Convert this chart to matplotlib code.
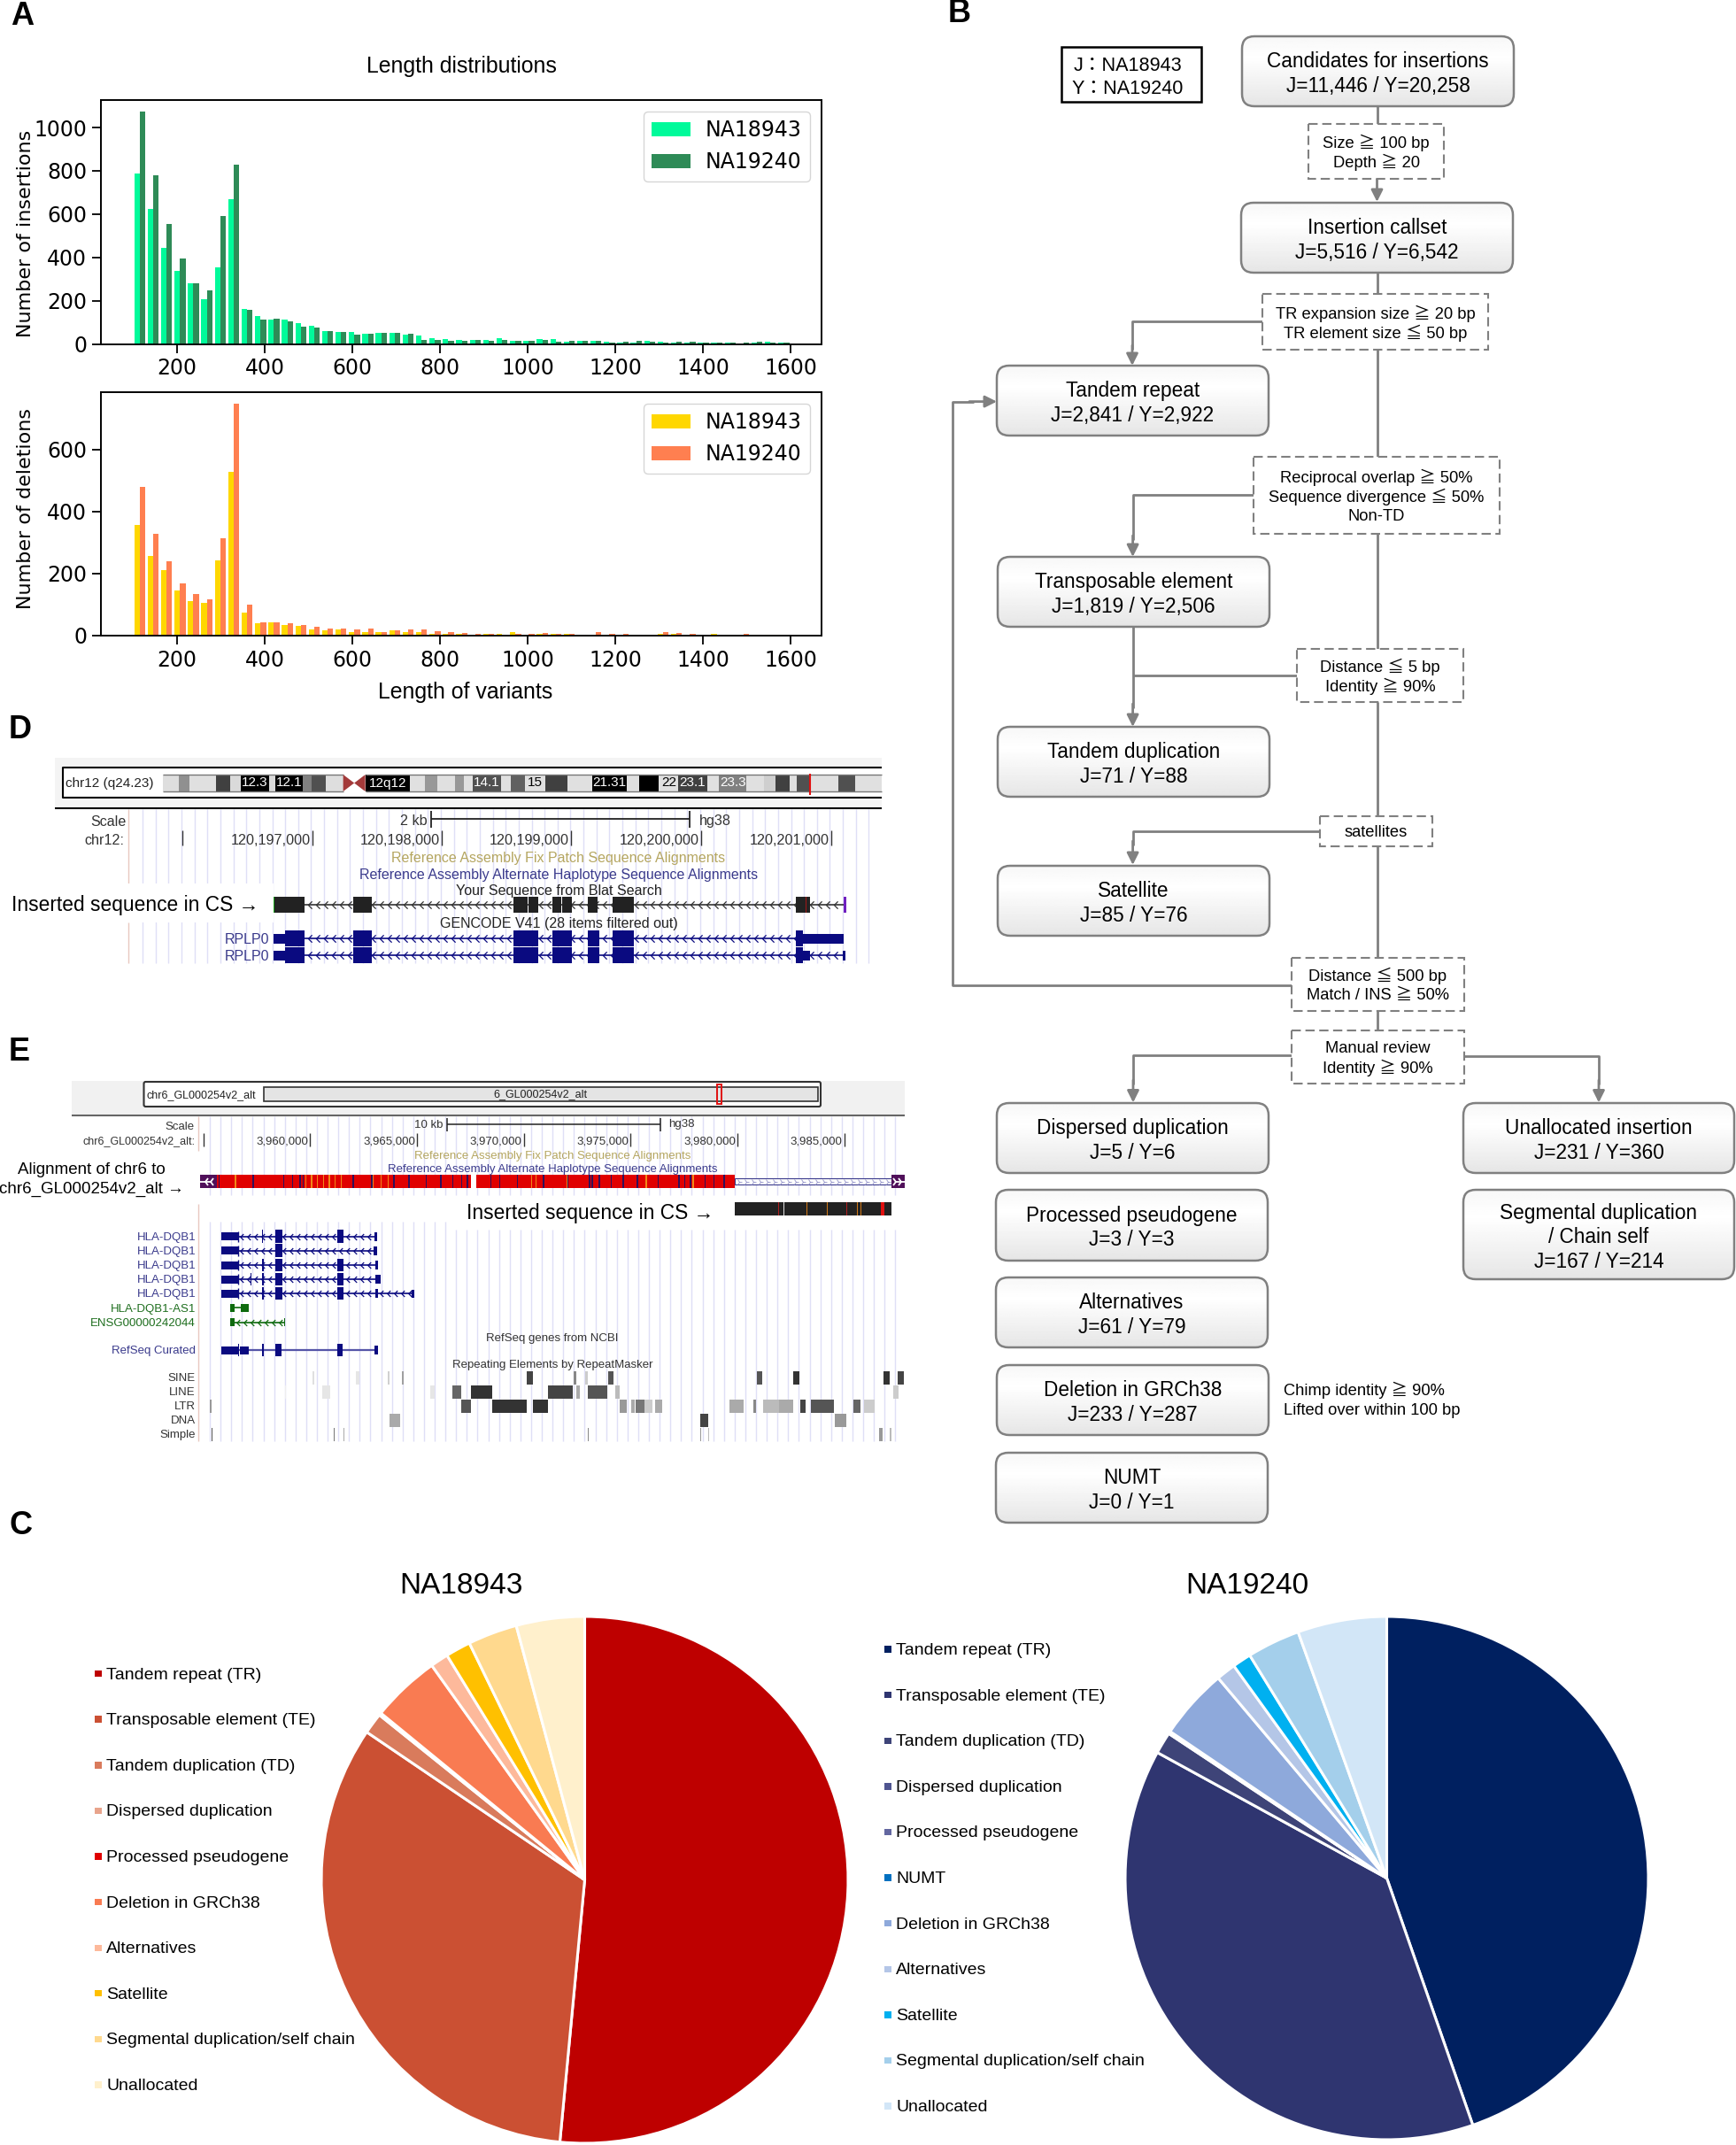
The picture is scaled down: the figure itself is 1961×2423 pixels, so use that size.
import numpy as np
import matplotlib
matplotlib.use('Agg')
import matplotlib.pyplot as plt
from matplotlib.patches import FancyBboxPatch, Rectangle, Polygon
from matplotlib.path import Path

W, H = 1961, 2423
SANS = ['Liberation Sans', 'Noto Sans CJK JP', 'DejaVu Sans']
plt.rcParams['font.family'] = ['DejaVu Sans']

# panel A, counts per length bin
bin_edges = np.linspace(100, 1600, 50)
ins_j = [787, 625, 443, 338, 281, 205, 355, 670, 161, 130, 113, 113, 95, 85, 60, 56, 56, 48, 52, 52, 44, 40, 26, 22,
         18, 20, 18, 25, 16, 16, 22, 22, 12, 14, 15, 10, 8, 8, 14, 12, 8, 8, 8, 6, 8, 4, 6, 11, 5]
ins_y = [1074, 780, 554, 396, 281, 247, 593, 828, 156, 113, 117, 104, 78, 76, 59, 56, 44, 48, 52, 52, 45, 19, 18, 15,
         14, 20, 14, 20, 15, 16, 20, 12, 14, 16, 15, 8, 9, 14, 10, 7, 9, 12, 7, 8, 5, 6, 11, 5, 7]
del_j = [357, 255, 210, 144, 111, 106, 242, 527, 73, 39, 42, 33, 30, 20, 17, 20, 10, 10, 10, 15, 10, 12, 6, 6,
         4, 3, 6, 5, 10, 3, 6, 4, 4, 1, 3, 2, 2, 2, 2, 6, 6, 3, 1, 4, 1, 1, 2, 1, 1]
del_y = [478, 329, 239, 167, 133, 115, 314, 748, 99, 42, 42, 39, 34, 27, 21, 23, 20, 21, 10, 15, 19, 18, 13, 10,
         8, 5, 5, 3, 5, 4, 8, 6, 6, 2, 10, 5, 6, 3, 3, 10, 7, 5, 1, 3, 1, 6, 3, 2, 1]

# panel C
names_j = ['Tandem repeat (TR)', 'Transposable element (TE)', 'Tandem duplication (TD)', 'Dispersed duplication',
           'Processed pseudogene', 'Deletion in GRCh38', 'Alternatives', 'Satellite',
           'Segmental duplication/self chain', 'Unallocated']
counts_j = [2841, 1819, 71, 5, 3, 233, 61, 85, 167, 231]
colors_j = ['#BE0000', '#CB5033', '#D97B5C', '#E8A48C', '#E00000', '#F97B52', '#FDB99B', '#FFC000', '#FFD98E', '#FFF0CC']
names_y = ['Tandem repeat (TR)', 'Transposable element (TE)', 'Tandem duplication (TD)', 'Dispersed duplication',
           'Processed pseudogene', 'NUMT', 'Deletion in GRCh38', 'Alternatives', 'Satellite',
           'Segmental duplication/self chain', 'Unallocated']
counts_y = [2922, 2506, 88, 6, 3, 1, 287, 79, 76, 214, 360]
colors_y = ['#002060', '#2F3570', '#3E4478', '#4F5590', '#6367A0', '#0070C0', '#8EA9DB', '#B4C6E7', '#00B0F0', '#A4CFEB', '#D2E6F7']

band_edges = [280, 308, 326, 371, 395, 414, 462, 473, 521, 535, 560, 590, 628, 705, 730, 752, 783, 798, 813, 862, 878,
              902, 938, 975, 1018, 1078, 1099, 1133, 1166, 1216, 1236, 1283, 1313, 1334, 1358, 1370, 1392, 1442, 1471, 1516]
band_greys = ['#DEDEDE', '#909090', '#E0E0E0', '#404040', '#DADADA', '#000000', '#DADADA', '#000000', '#808080', '#505050',
              '#DEDEDE', '#FFFFFF', '#000000', '#E0E0E0', '#989898', '#E0E0E0', '#989898', '#E0E0E0', '#505050', '#E0E0E0',
              '#606060', '#E0E0E0', '#404040', '#E0E0E0', '#000000', '#E0E0E0', '#000000', '#E0E0E0', '#404040', '#E0E0E0',
              '#808080', '#E0E0E0', '#CFCFCF', '#404040', '#E0E0E0', '#505050', '#E0E0E0', '#505050', '#E0E0E0']
band_names = [('12.3', 438, 'w'), ('12.1', 497, 'w'), ('12q12', 667, 'w'), ('14.1', 837, 'w'), ('15', 920, 'k'),
              ('21.31', 1048, 'w'), ('22', 1150, 'k'), ('23.1', 1191, 'w'), ('23.3', 1260, 'w')]
d_ticks = [206, 353, 499, 645, 792, 939]
d_labels = ['', '120,197,000', '120,198,000', '120,199,000', '120,200,000', '120,201,000']
blat_blocks = [(471, 523), (608, 639), (883, 907), (908, 926), (950, 965), (966, 983), (1010, 1028), (1053, 1071),
               (1072, 1090), (1368, 1392)]
rplp_tall = [(490, 523), (608, 639), (883, 926), (950, 983), (1010, 1030), (1053, 1090)]

# panel E
e_ticks = [230, 350, 471, 591.5, 712, 833, 953.6]
e_labels = ['', '3,960,000', '3,965,000', '3,970,000', '3,975,000', '3,980,000', '3,985,000']
alt_dark = [372, 399, 430, 482, 497, 510, 515, 600, 632, 670, 695, 725, 750, 770, 785, 795, 835, 850, 880, 925, 965, 1003,
            1008, 1020, 1040, 1060, 1085, 1120, 1155, 1165, 1175, 1200, 1215, 1232]
alt_orange = [400, 520, 530, 540, 550, 560, 570, 580, 635, 648, 660, 905, 912, 965, 1100, 1180]
gene_rows = [
    ('HLA-DQB1', 50, [(229, 229)], [(273, 295), (484, 502)], 608, 618),
    ('HLA-DQB1', 98, [], [(273, 295)], 606, 618),
    ('HLA-DQB1', 147, [(229, 233)], [(273, 295), (484, 502)], 612, 621),
    ('HLA-DQB1', 195, [(188, 192), (229, 233)], [(273, 295), (484, 502)], 612, 630),
    ('HLA-DQB1', 243, [(229, 233)], [(273, 295), (484, 502)], 612, 620),
]
sine = [(533, 536, '#E0E0E0'), (606, 612, '#E6E6E6'), (660, 663, '#D0D0D0'), (685, 688, '#A0A0A0'), (897, 908, '#444444'),
        (977, 981, '#888888'), (997, 1001, '#CCCCCC'), (1036, 1045, '#555555'), (1289, 1299, '#555555'),
        (1351, 1361, '#333333'), (1505, 1516, '#333333'), (1529, 1539, '#444444')]
line = [(485, 487, '#EEEEEE'), (549, 562, '#E6E6E6'), (733, 741, '#E6E6E6'), (771, 785, '#666666'), (803, 838, '#333333'),
        (933, 975, '#444444'), (981, 988, '#AAAAAA'), (1001, 1035, '#555555'), (1048, 1056, '#BBBBBB'), (1521, 1530, '#CCCCCC')]
ltr = [(357, 360, '#999999'), (785, 803, '#555555'), (838, 897, '#333333'), (908, 933, '#333333'), (1056, 1068, '#999999'),
       (1075, 1081, '#AAAAAA'), (1083, 1098, '#777777'), (1098, 1112, '#CCCCCC'), (1116, 1128, '#AAAAAA'),
       (1242, 1266, '#AAAAAA'), (1284, 1288, '#888888'), (1300, 1327, '#BBBBBB'), (1327, 1351, '#AAAAAA'),
       (1363, 1373, '#444444'), (1381, 1420, '#555555'), (1454, 1466, '#666666'), (1472, 1490, '#CCCCCC')]
dna = [(663, 682, '#AAAAAA'), (1193, 1207, '#444444'), (1422, 1442, '#999999')]
simple = [(360, 362, '#555555'), (568, 570, '#777777'), (585, 587, '#AAAAAA'), (1001, 1003, '#888888'),
          (1193, 1195, '#999999'), (1206, 1208, '#BBBBBB'), (1498, 1503, '#999999'), (1516, 1518, '#BBBBBB')]

GREY = '#808080'
NAVY = '#0A0A80'
TRACK_BLUE = '#3A3A8C'
TRACK_GOLD = '#B5A660'
GREEN = '#1E6E1E'
GRID = '#DFDFF6'

fig = plt.figure(figsize=(W / 100, H / 100), dpi=100)
canvas = fig.add_axes([0, 0, 1, 1])
canvas.set_xlim(0, W)
canvas.set_ylim(H, 0)
canvas.set_autoscale_on(False)
canvas.axis('off')


def px_axes(x0, y0, x1, y1):
    return fig.add_axes([x0 / W, 1 - y1 / H, (x1 - x0) / W, (y1 - y0) / H])


def txt(x, y, s, size=14, ha='center', color='black', **kw):
    return canvas.text(x, y + 1.5, s, fontsize=size, ha=ha, va='center', color=color, family=SANS, **kw)


def rect(x0, x1, y0, y1, color, z=3):
    canvas.add_patch(Rectangle((x0, y0), x1 - x0, y1 - y0, fc=color, ec='none', lw=0, zorder=z))


def seg(xs, ys, color=GREY, lw=2, z=2, **kw):
    canvas.plot(xs, ys, color=color, lw=lw, zorder=z, solid_capstyle='butt', **kw)


def arrow(x0, y0, x1, y1):
    canvas.annotate('', xy=(x1, y1), xytext=(x0, y0), zorder=3,
                    arrowprops=dict(arrowstyle='-|>,head_length=0.66,head_width=0.33', color=GREY, lw=2,
                                    mutation_scale=12, shrinkA=0, shrinkB=0))


def flow_box(x0, y0, x1, y1, lines, size=16.3):
    patch = FancyBboxPatch((x0, y0), x1 - x0, y1 - y0, boxstyle='round,pad=0,rounding_size=14',
                           fc='none', ec=GREY, lw=1.8, zorder=4)
    canvas.add_patch(patch)
    grad = np.interp(np.linspace(0, 1, 64), [0, 0.3, 1], [0.97, 1.0, 0.9])[:, None]
    im = canvas.imshow(grad, extent=(x0, x1, y1, y0), cmap='gray', vmin=0, vmax=1, aspect='auto', zorder=3)
    im.set_clip_path(patch)
    cy = (y0 + y1) / 2 + 1.5
    cx = (x0 + x1) / 2
    gap = 27.5
    for i, s in enumerate(lines):
        txt(cx, cy + (i - (len(lines) - 1) / 2) * gap, s, size=size, zorder=5)


def dash_box(x0, y0, x1, y1, lines, size=13.2):
    canvas.add_patch(Rectangle((x0, y0), x1 - x0, y1 - y0, fc='white', ec=GREY, lw=1.5, ls=(0, (5, 2.5)), zorder=4))
    cy = (y0 + y1) / 2
    cx = (x0 + x1) / 2
    for i, s in enumerate(lines):
        txt(cx, cy + (i - (len(lines) - 1) / 2) * 22, s, size=size, zorder=5)


def chevrons(x0, x1, y, color=NAVY, step=10, lw=1.2, size=6):
    seg([x0, x1], [y, y], color=color, lw=lw, z=3)
    mark = Path([(0.5, 1), (-0.5, 0), (0.5, -1)], [Path.MOVETO, Path.LINETO, Path.LINETO])
    xs = np.arange(x0 + step / 2, x1, step)
    canvas.plot(xs, [y] * len(xs), ls='none', marker=mark, ms=size, mfc='none', mec=color, mew=0.9, zorder=3)


# ---- panel labels
for lab, lx, ly in [('A', 12, 17), ('B', 1071, 14), ('D', 10, 823), ('E', 10, 1187), ('C', 10, 1722)]:
    txt(lx, ly, lab, size=26, ha='left', fontweight='bold')

# ---- panel A
for box, a, b, c1, c2, ylab, ylabc, ymax, ticks in [
    ((114, 113, 928, 388.5), ins_j, ins_y, 'mediumspringgreen', 'seagreen', 'Number of insertions', 0.451, 1127,
     [0, 200, 400, 600, 800, 1000]),
    ((114, 443, 928, 717.7), del_j, del_y, 'gold', 'coral', 'Number of deletions', 0.52, 785, [0, 200, 400, 600]),
]:
    ax = px_axes(*box)
    lefts = bin_edges[:-1] + 2
    ax.bar(lefts, a, width=12.6, align='edge', color=c1, label='NA18943')
    ax.bar(lefts + 12.6, b, width=12.6, align='edge', color=c2, label='NA19240')
    ax.set_xlim(26, 1670)
    ax.set_ylim(0, ymax)
    ax.set_xticks(range(200, 1601, 200))
    ax.set_yticks(ticks)
    ax.tick_params(labelsize=17, length=7, width=1.3, pad=4.5)
    for sp in ax.spines.values():
        sp.set_linewidth(1.4)
    ax.set_ylabel(ylab, fontsize=16)
    ax.yaxis.set_label_coords(-0.092, ylabc)
    ax.legend(loc='upper right', fontsize=17, handlelength=1.85, handletextpad=0.7, borderaxespad=0.55, borderpad=0.4)
    if ylab.endswith('insertions'):
        ax.set_title('Length distributions', fontsize=17.9, family=SANS, pad=22)
    else:
        ax.set_xlabel('Length of variants', fontsize=17.9, family=SANS, labelpad=9, x=0.506)

# ---- panel B
flow_box(1403, 41, 1710, 120, ['Candidates for insertions', 'J=11,446 / Y=20,258'])
flow_box(1402, 229, 1709, 308, ['Insertion callset', 'J=5,516 / Y=6,542'])
flow_box(1126, 413, 1433, 492, ['Tandem repeat', 'J=2,841 / Y=2,922'])
flow_box(1127, 629, 1434, 708, ['Transposable element', 'J=1,819 / Y=2,506'])
flow_box(1127, 821, 1434, 900, ['Tandem duplication', 'J=71 / Y=88'])
flow_box(1127, 978, 1434, 1057, ['Satellite', 'J=85 / Y=76'])
flow_box(1126, 1246, 1433, 1325, ['Dispersed duplication', 'J=5 / Y=6'])
flow_box(1125, 1344, 1432, 1424, ['Processed pseudogene', 'J=3 / Y=3'])
flow_box(1125, 1443, 1432, 1522, ['Alternatives', 'J=61 / Y=79'])
flow_box(1126, 1542, 1433, 1621, ['Deletion in GRCh38', 'J=233 / Y=287'])
flow_box(1125, 1641, 1432, 1720, ['NUMT', 'J=0 / Y=1'])
flow_box(1653, 1246, 1959, 1325, ['Unallocated insertion', 'J=231 / Y=360'])
flow_box(1653, 1344, 1959, 1445, ['Segmental duplication', '/ Chain self', 'J=167 / Y=214'])

dash_box(1478, 140, 1631, 202, ['Size ≧ 100 bp', 'Depth ≧ 20'])
dash_box(1426, 332, 1681, 395, ['TR expansion size ≧ 20 bp', 'TR element size ≦ 50 bp'])
dash_box(1416, 516, 1694, 603, ['Reciprocal overlap ≧ 50%', 'Sequence divergence ≦ 50%', 'Non-TD'])
dash_box(1465, 733, 1653, 793, ['Distance ≦ 5 bp', 'Identity ≧ 90%'])
dash_box(1491, 922, 1618, 956, ['satellites'])
dash_box(1459, 1082, 1654, 1142, ['Distance ≦ 500 bp', 'Match / INS ≧ 50%'])
dash_box(1459, 1164, 1654, 1224, ['Manual review', 'Identity ≧ 90%'])

canvas.add_patch(Rectangle((1199, 53), 158, 62, fc='white', ec='black', lw=1.8, zorder=4))
txt(1274, 72.5, 'J：NA18943', size=15.6, zorder=5)
txt(1274, 99, 'Y：NA19240', size=15.6, zorder=5)

MAIN = 1555.5
seg([MAIN, MAIN], [120, 140])
arrow(MAIN, 202, MAIN, 228)
seg([MAIN, MAIN], [308, 332])
seg([MAIN, MAIN], [395, 516])
seg([1426, 1279, 1279], [362.5, 362.5, 395])
arrow(1279, 390, 1279, 413)
seg([1416, 1279.6, 1279.6], [559, 559, 610])
arrow(1279.6, 605, 1279.6, 629)
seg([MAIN, MAIN], [603, 733])
seg([1279.6, 1279.6], [708, 800])
seg([1465, 1279.6], [763, 763])
arrow(1279.6, 795, 1279.6, 821)
seg([MAIN, MAIN], [793, 922])
seg([1491, 1279.6, 1279.6], [939, 939, 955])
arrow(1279.6, 950, 1279.6, 977)
seg([MAIN, MAIN], [956, 1082])
seg([1459, 1076, 1076, 1100], [1113, 1113, 453.6, 453.6])
arrow(1095, 453.6, 1126, 453.6)
seg([MAIN, MAIN], [1142, 1164])
seg([1459, 1280, 1280], [1191.5, 1191.5, 1225])
arrow(1280, 1220, 1280, 1245.5)
seg([1654, 1806, 1806], [1192.6, 1192.6, 1225])
arrow(1806, 1220, 1806, 1245.5)
txt(1450, 1569, 'Chimp identity ≧ 90%', size=13.2, ha='left')
txt(1450, 1592, 'Lifted over within 100 bp', size=13.2, ha='left')

# ---- panel D
DX = 1.522
rect(62, 996, 856, 913, '#F4F4F4', z=1)
seg([62, 996], [913, 913], color='black', lw=1.5, z=3)
rect(71, 996, 867, 901, 'white', z=2)
seg([996, 71, 71, 996], [867, 867, 901, 901], color='black', lw=1.5, z=3)
txt(74, 884, 'chr12 (q24.23)', size=11, ha='left', color='#222222', zorder=5)
for i, g in enumerate(band_greys):
    rect(band_edges[i] / DX, band_edges[i + 1] / DX, 875, 894, g)
seg([184, 388], [875, 875], color='#777777', lw=1, z=4)
seg([184, 388], [894, 894], color='#777777', lw=1, z=4)
seg([413, 996], [875, 875], color='#777777', lw=1, z=4)
seg([413, 996], [894, 894], color='#777777', lw=1, z=4)
canvas.add_patch(Polygon([(590 / DX, 875), (609 / DX, 884.5), (590 / DX, 894)], fc='#A33A3A', ec='none', zorder=4))
canvas.add_patch(Polygon([(628 / DX, 875), (609 / DX, 884.5), (628 / DX, 894)], fc='#A33A3A', ec='none', zorder=4))
seg([1392 / DX, 1392 / DX], [874, 898], color='#E01010', lw=1.5, z=5)
for s, x, c in band_names:
    txt(x / DX, 883, s, size=11, color=c, zorder=5)

for x in np.arange(161, 985, 14.65):
    seg([x, x], [914, 1088], color=GRID, lw=1, z=1)
seg([145, 145], [914, 998], color='#E8C8C0', lw=1, z=1)
seg([145, 145], [1042, 1088], color='#E8C8C0', lw=1, z=1)
rect(0, 309, 998, 1042, 'white', z=1.5)

txt(142.6, 927, 'Scale', size=11.6, ha='right', color='#333333')
txt(140.6, 948, 'chr12:', size=11.6, ha='right', color='#333333')
txt(483, 926, '2 kb', size=11.6, ha='right', color='#333333')
txt(790, 926, 'hg38', size=11.6, ha='left', color='#333333')
seg([487, 778.6], [925, 925], color='#222222', lw=1.3, z=3)
seg([487, 487], [916, 935], color='#222222', lw=1.3, z=3)
seg([778.6, 778.6], [916, 935], color='#222222', lw=1.3, z=3)
for x, s in zip(d_ticks, d_labels):
    seg([x, x], [938, 955], color='#333333', lw=1, z=3)
    txt(x - 2, 948, s, size=11.6, ha='right', color='#333333')
txt(631, 968, 'Reference Assembly Fix Patch Sequence Alignments', size=11.5, color=TRACK_GOLD)
txt(631, 987, 'Reference Assembly Alternate Haplotype Sequence Alignments', size=11.5, color=TRACK_BLUE)
txt(631, 1005, 'Your Sequence from Blat Search', size=11.5, color='#222222')
txt(631, 1042, 'GENCODE V41 (28 items filtered out)', size=11.5, color='#222222')
txt(13, 1021, 'Inserted sequence in CS →', size=16.4, ha='left')

chevrons(471 / DX, 1450 / DX, 1022, color='#333333', step=9)
for a, b in blat_blocks:
    rect(a / DX, b / DX, 1013, 1031, '#222222')
rect(1071 / DX, 1072 / DX, 1013, 1031, '#D07818', z=4)
rect(1385 / DX, 1386.5 / DX, 1013, 1031, '#A01818', z=4)
rect(471 / DX, 472 / DX, 1013, 1031, '#18A018', z=4)
rect(1450 / DX, 1455 / DX, 1013, 1031, '#7020C0', z=4)

for yc in (1060, 1079):
    txt(304, yc, 'RPLP0', size=11.5, ha='right', color=TRACK_BLUE)
    chevrons(471 / DX, 1450 / DX, yc, step=9)
    rect(471 / DX, 490 / DX, yc - 5.5, yc + 5.5, NAVY)
    for a, b in rplp_tall:
        rect(a / DX, b / DX, yc - 9, yc + 9, NAVY)
rect(1368 / DX, 1380 / DX, 1051, 1069, NAVY)
rect(1380 / DX, 1450 / DX, 1054.5, 1065.5, NAVY)
rect(1368 / DX, 1380 / DX, 1070, 1088, NAVY)
rect(1380 / DX, 1392 / DX, 1073.5, 1084.5, NAVY)
rect(1449 / DX, 1453 / DX, 1073.5, 1084.5, NAVY)

# ---- panel E
EX = 1.508
rect(81, 1022, 1221, 1260, '#F1F1F1', z=1)
seg([81, 1022], [1260, 1260], color='#666666', lw=1.5, z=3)
canvas.add_patch(FancyBboxPatch((162.5, 1222), 764.5, 28, boxstyle='round,pad=0,rounding_size=2',
                                fc='white', ec='#333333', lw=1.5, zorder=2))
txt(165, 1235.5, 'chr6_GL000254v2_alt', size=9, ha='left', color='#222222', zorder=5)
canvas.add_patch(Rectangle((298.4, 1228), 625.6, 16, fc='#E4E4E4', ec='#333333', lw=1.2, zorder=3))
txt(610, 1235, '6_GL000254v2_alt', size=9, color='#222222', zorder=5)
canvas.add_patch(Rectangle((810, 1225), 5, 22, fc='none', ec='#E01010', lw=1.4, zorder=5))

for x in np.arange(237, 1022, 12.1):
    seg([x, x], [1261, 1350], color=GRID, lw=1, z=1)
    seg([x, x], [1380 if x < 513 else 1389, 1628], color=GRID, lw=1, z=1)
seg([224, 224], [1261, 1300], color='#E8C8C0', lw=1, z=1)
seg([224, 224], [1360, 1628], color='#E8C8C0', lw=1, z=1)

txt(220, 1271, 'Scale', size=9.5, ha='right', color='#333333')
txt(220, 1288, 'chr6_GL000254v2_alt:', size=9, ha='right', color='#333333')
txt(500.7, 1269, '10 kb', size=9.5, ha='right', color='#333333')
txt(755, 1269, 'hg38', size=9.5, ha='left', color='#333333')
seg([504.6, 746], [1270, 1270], color='#222222', lw=1.1, z=3)
seg([504.6, 504.6], [1263, 1278], color='#222222', lw=1.1, z=3)
seg([746, 746], [1263, 1278], color='#222222', lw=1.1, z=3)
for x, s in zip(e_ticks, e_labels):
    seg([x, x], [1280, 1295], color='#333333', lw=1, z=3)
    txt(x - 2, 1288, s, size=9.5, ha='right', color='#333333')
txt(624, 1304, 'Reference Assembly Fix Patch Sequence Alignments', size=9.5, color=TRACK_GOLD)
txt(624, 1319.7, 'Reference Assembly Alternate Haplotype Sequence Alignments', size=9.5, color=TRACK_BLUE)
txt(103, 1319.7, 'Alignment of chr6 to', size=13.5)
txt(103, 1342, 'chr6_GL000254v2_alt →', size=13.5)

rect(226, 245, 1327, 1342, '#50105A')
rect(245, 532, 1327, 1342, '#E00000')
rect(538, 830, 1327, 1342, '#E00000')
for z in alt_dark:
    rect(z / EX, (z + 2.5) / EX, 1327, 1342, '#30105A', z=4)
for z in alt_orange:
    rect(z / EX, (z + 2) / EX, 1327, 1342, '#F08818', z=4)
canvas.add_patch(Rectangle((830, 1331), 177, 7, fc='white', ec=TRACK_BLUE, lw=0.8, zorder=3))
xs = np.arange(835, 1005, 8)
canvas.plot(xs, [1334.5] * len(xs), ls='none', marker='4', ms=5, mec='#9090C8', mew=0.6, zorder=4)
rect(1007, 1022, 1327, 1342, '#50105A')
for x in (232, 238):
    canvas.plot([x], [1334.5], marker='3', ms=8, mec='white', mew=1.3, zorder=5)
for x in (1012, 1018):
    canvas.plot([x], [1334.5], marker='4', ms=8, mec='white', mew=1.3, zorder=5)

txt(527, 1369, 'Inserted sequence in CS →', size=16.4, ha='left', zorder=5)
rect(829.6, 1007, 1358, 1373, '#222222')
for z, c in [(1325, '#B02020'), (1335, '#E0E0E0'), (1374, '#D07818'), (1408, '#D07818'), (1441, '#B02020'),
             (1460, '#D07818'), (1466, '#D07818')]:
    rect(z / EX, (z + 1.5) / EX, 1358, 1373, c, z=4)
rect(1500 / EX, 1506 / EX, 1358, 1373, '#E01010', z=4)


def gx(z):
    return 220 + z / 3


def gy(z):
    return 1380 + z / 3


for name, yz, thin, tall, end0, end1 in gene_rows:
    yc = gy(yz)
    txt(221, yc, name, size=9.5, ha='right', color=TRACK_BLUE)
    chevrons(gx(148), gx(end0), yc, step=8, size=5)
    rect(gx(90), gx(148), yc - 4.5, yc + 4.5, NAVY)
    seg([gx(148), gx(148)], [yc - 6, yc + 6], color=NAVY, lw=1, z=3)
    for a, b in tall + thin:
        rect(gx(a), gx(b + 1), yc - 7.3, yc + 7.3, NAVY)
    rect(gx(end0), gx(end1), yc - 5, yc + 5, NAVY)
yc = gy(243)
chevrons(gx(620), gx(738), yc, step=8, size=5)
rect(gx(736), gx(745), yc - 4.5, yc + 4.5, NAVY)

yc = gy(292)
txt(221, yc, 'HLA-DQB1-AS1', size=9.5, ha='right', color=GREEN)
rect(gx(120), gx(134), yc - 4.5, yc + 4.5, '#0E6A0E')
seg([gx(134), gx(155)], [yc, yc], color='#0E6A0E', lw=1.2, z=3)
rect(gx(155), gx(182), yc - 4.5, yc + 4.5, '#0E6A0E')
yc = gy(341)
txt(221, yc, 'ENSG00000242044', size=9.5, ha='right', color=GREEN)
chevrons(gx(134), gx(303), yc, color='#0E6A0E', step=8, size=5)
rect(gx(120), gx(134), yc - 4.5, yc + 4.5, '#0E6A0E')
rect(gx(302), gx(306), yc - 4.5, yc + 4.5, '#0E6A0E')
yc = gy(435)
txt(221, yc, 'RefSeq Curated', size=9.5, ha='right', color=TRACK_BLUE)
seg([gx(148), gx(612)], [yc, yc], color='#5555A8', lw=1.6, z=3)
rect(gx(90), gx(148), yc - 4.5, yc + 4.5, NAVY)
rect(gx(148), gx(150), yc - 7, yc + 7, NAVY)
rect(gx(152), gx(182), yc - 4.5, yc + 4.5, NAVY)
for a, b in [(229, 233), (273, 295), (484, 502)]:
    rect(gx(a), gx(b), yc - 7.3, yc + 7.3, NAVY)
rect(gx(610), gx(622), yc - 5, yc + 5, NAVY)

txt(624, 1510, 'RefSeq genes from NCBI', size=9.5, color='#333333')
txt(624, 1541, 'Repeating Elements by RepeatMasker', size=9.5, color='#333333')
for name, yc, blocks in [('SINE', 1556, sine), ('LINE', 1572, line), ('LTR', 1588, ltr), ('DNA', 1604, dna),
                         ('Simple', 1620.7, simple)]:
    txt(221, yc - 1, name, size=9.5, ha='right', color='#333333')
    for a, b, c in blocks:
        rect(a / EX, b / EX, yc - 7.5, yc + 7.5, c)

# ---- panel C
for names, counts, colors, title, tx, cx, cy, r, mx, y0 in [
    (names_j, counts_j, colors_j, 'NA18943', 521, 660.5, 2123.5, 297.5, 107, 1890.6),
    (names_y, counts_y, colors_y, 'NA19240', 1409, 1566.5, 2121.5, 295.5, 999, 1863),
]:
    ax = px_axes(cx - r, cy - r, cx + r, cy + r)
    ax.pie(counts, colors=colors, startangle=90, counterclock=False, radius=1,
           wedgeprops=dict(edgecolor='white', linewidth=2.2))
    ax.set_xlim(-1, 1)
    ax.set_ylim(-1, 1)
    txt(tx, 1790, title, size=24)
    for i, (n, c) in enumerate(zip(names, colors)):
        yy = y0 + i * 51.6
        rect(mx, mx + 7.5, yy - 3.7, yy + 3.7, c)
        txt(mx + 13, yy, n, size=14, ha='left')

canvas.set_xlim(0, W)
canvas.set_ylim(H, 0)
fig.savefig('out.png', dpi=100)
